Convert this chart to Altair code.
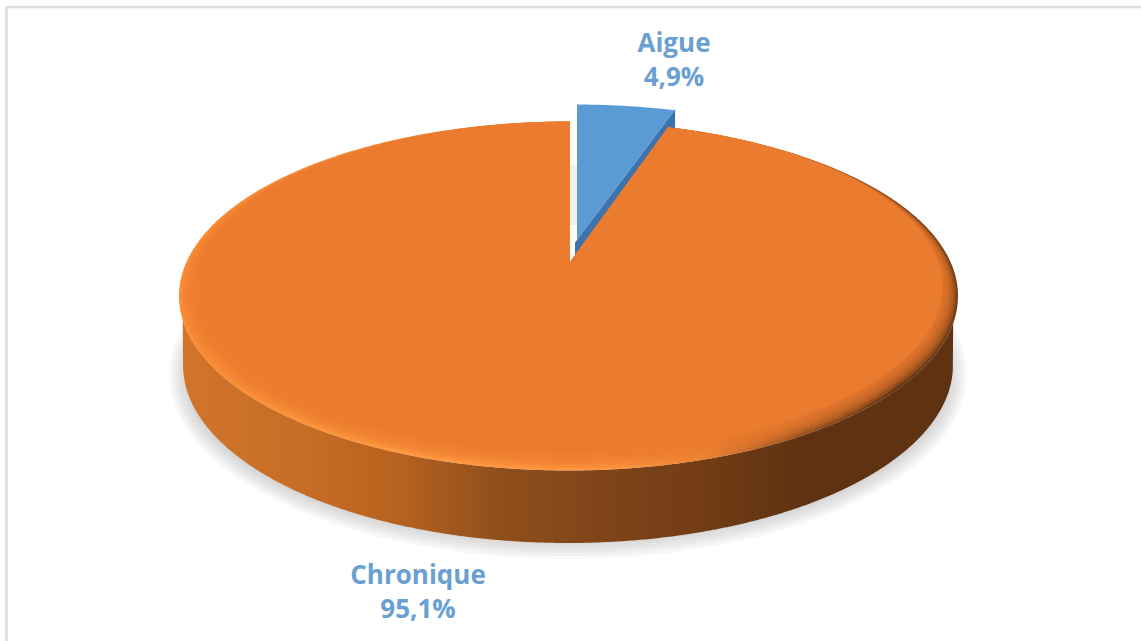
import numpy as np
import pandas as pd
import altair as alt

# Share of cases by form of the condition
categories = ["Aigue", "Chronique"]
shares = [4.9, 95.1]

W, H = 1141, 641
FACE = "#EB7B2E"
BLUE = "#5B9BD5"
BLUE_SIDE = "#3D74AD"
LABEL = "#6A9FD2"

# Projected disc: top face, lower rim, wedge apex and the pull-out of the small slice
CX, CY, RX, RY = 568.5, 296.0, 389.5, 174.5
RIM_CX, RIM_CY, RIM_RX, RIM_RY = 568.0, 365.0, 385.0, 178.0
APEX_X, APEX_Y = 570.0, 262.0
PULL_X, PULL_Y = 7.0, -17.0
PULL_APEX_Y = -22.0
FORESHORTEN = 0.84

turn = 2 * np.pi * shares[0] / 100 * FORESHORTEN
HIT_X = CX + RX * np.sin(turn)
HIT_Y = CY - RY * np.cos(turn)
SLOPE = (HIT_Y - APEX_Y) / (HIT_X - APEX_X)
PULLED_SLOPE = (HIT_Y + PULL_Y - 1 - APEX_Y - PULL_APEX_Y) / (HIT_X - APEX_X)


def xs_for(cx, rx, n=420):
    return cx - rx * np.cos(np.linspace(0, np.pi, n))


def half(x, cx, rx, ry):
    return ry * np.sqrt(np.clip(1 - ((x - cx) / rx) ** 2, 0, 1))


def frame(x, y, y2):
    return pd.DataFrame({"x": np.round(x, 3), "y": np.round(y, 3), "y2": np.round(y2, 3)})


def disc(cx, cy, rx, ry, notch=True):
    x = xs_for(cx, rx)
    if notch:
        x = np.unique(np.concatenate([x, [APEX_X - 0.02, APEX_X, HIT_X]]))
    top = cy - half(x, cx, rx, ry)
    bottom = cy + half(x, cx, rx, ry)
    if notch:
        edge = APEX_Y + SLOPE * (x - APEX_X)
        top = np.where(x >= APEX_X, np.maximum(top, edge), top)
    return frame(x, top, bottom)


def wall():
    x = xs_for(CX, RX, 500)
    upper = CY + half(x, CX, RX, RY)
    inside = np.abs(x - RIM_CX) < RIM_RX
    lower = np.where(inside, RIM_CY + half(x, RIM_CX, RIM_RX, RIM_RY), upper)
    return frame(x, upper, np.maximum(upper, lower))


def pulled_edge(x):
    return APEX_Y + PULL_APEX_Y + PULLED_SLOPE * (x - APEX_X - PULL_X)


def pulled_slice():
    x = np.linspace(APEX_X + PULL_X, HIT_X + PULL_X, 60)
    top = CY + PULL_Y - half(x, CX + PULL_X, RX, RY)
    return frame(x, top, pulled_edge(x))


def pulled_side():
    x = np.linspace(APEX_X + 5, HIT_X + PULL_X, 40)
    return frame(x, pulled_edge(x), pulled_edge(x) + 24)


def gap(y_from, y_to):
    x = np.array([APEX_X - 1, APEX_X + PULL_X + 3])
    return frame(x, np.full(2, y_from), np.full(2, y_to))


def gradient(stops):
    return alt.LinearGradient(
        gradient="linear",
        stops=[alt.GradientStop(offset=o, color=c) for o, c in stops],
        x1=0, x2=1, y1=0, y2=0,
    )


x_enc = alt.X("x:Q", scale=alt.Scale(domain=[0, W]), axis=None)
y_enc = alt.Y("y:Q", scale=alt.Scale(domain=[H, 0]), axis=None)


def area(df, **mark):
    return alt.Chart(df).mark_area(**mark).encode(x=x_enc, y=y_enc, y2="y2:Q")


layers = []

# Panel outline: top and left sides only
outline = pd.DataFrame({"x": [6.5, 6.5], "x2": [W, 6.5], "y": [7, 7], "y2": [7, H]})
layers.append(
    alt.Chart(outline)
    .mark_rule(color="#DCDCDC", strokeWidth=2.6)
    .encode(x=x_enc, x2="x2:Q", y=y_enc, y2="y2:Q")
)

# Soft cast shadow under the disc
for k in range(9):
    layers.append(area(disc(568, 375, 399 - 3 * k, 184 - 3 * k, notch=False), color="#7F7F7F", opacity=0.05))

# Gap left by the pulled-out slice
layers.append(area(gap(150, 270), color="white"))
layers.append(area(gap(165, 225), color="#F0F0F0"))

# Side wall of the disc
layers.append(area(wall(), color=gradient([
    (0.00, "#D2752A"), (0.16, "#C66D26"), (0.28, "#B8621F"), (0.41, "#8F4F1B"),
    (0.54, "#7F4519"), (0.67, "#723C15"), (0.80, "#5F3311"), (1.00, "#5F3311"),
])))

# Side of the pulled-out slice, then its top
layers.append(area(pulled_side(), color=BLUE_SIDE))
layers.append(area(pulled_slice(), color=BLUE))

# Bevelled rim, then the face fading in over it
layers.append(area(disc(CX, CY, RX, RY), color=gradient([
    (0.00, "#F98C35"), (0.30, "#FF983F"), (0.55, "#FF953F"), (0.68, "#EC8232"),
    (0.80, "#9C5320"), (0.92, "#6A3815"), (1.00, "#744016"),
])))
for k in range(1, 8):
    step = 2.7 * k
    layers.append(area(
        disc(CX + 0.5 * k, CY - step / 2, RX - step, RY - step / 2),
        color=FACE, opacity=0.3 if k < 7 else 1,
    ))

# Slice labels
rows = []
for cat, share, cx, y_name, y_val in zip(categories, shares, [674, 418], [44, 576], [78, 610]):
    rows.append({"text": cat, "x": cx, "y": y_name})
    rows.append({"text": f"{share:.1f}%".replace(".", ","), "x": cx, "y": y_val})
layers.append(
    alt.Chart(pd.DataFrame(rows))
    .mark_text(font="Open Sans", fontWeight="bold", fontSize=26, color=LABEL, align="center", baseline="middle")
    .encode(x=x_enc, y=y_enc, text="text:N")
)

chart = (
    alt.layer(*layers)
    .properties(width=W, height=H, padding=0, autosize=alt.AutoSizeParams(type="none"), background="white")
    .configure_view(stroke=None)
)
chart.save("out.html", embed_options={"renderer": "svg", "actions": False})
